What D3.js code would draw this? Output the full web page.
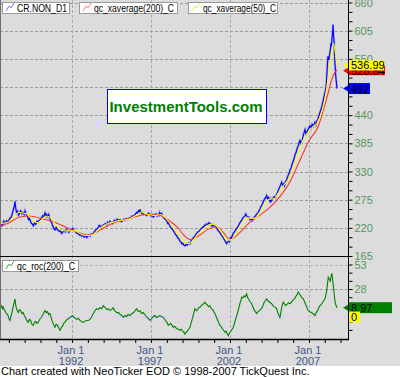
<!DOCTYPE html>
<html>
<head>
<meta charset="utf-8">
<title>CR.NON</title>
<style>
body { margin: 0; background: #fff; }
svg { display: block; font-family: "Liberation Sans", Arial, sans-serif; }
</style>
</head>
<body>
<svg width="400" height="377"></svg>
<script src="https://d3js.org/d3.v7.min.js"></script>
<script>
// CR.NON_D1 close, [decimal year, value]
var price = [
  [1987.44, 229], [1987.52, 224], [1987.6, 226], [1987.68, 233], [1987.75, 229], [1987.86, 234],
  [1987.95, 231], [1988.05, 238], [1988.15, 241], [1988.22, 248], [1988.28, 255], [1988.35, 263],
  [1988.39, 272], [1988.42, 262], [1988.45, 256], [1988.5, 249], [1988.56, 252], [1988.62, 245],
  [1988.7, 250], [1988.75, 253], [1988.83, 247], [1988.91, 250], [1988.97, 246], [1989.02, 253],
  [1989.08, 248], [1989.13, 244], [1989.2, 241], [1989.25, 236], [1989.32, 238], [1989.4, 230],
  [1989.47, 228], [1989.55, 224], [1989.62, 229], [1989.7, 227], [1989.78, 233], [1989.86, 231],
  [1989.93, 235], [1990.0, 236], [1990.08, 240], [1990.15, 244], [1990.22, 242], [1990.29, 249],
  [1990.35, 243], [1990.4, 246], [1990.47, 242], [1990.52, 246], [1990.6, 238], [1990.66, 233],
  [1990.72, 230], [1990.77, 224], [1990.82, 222], [1990.87, 217], [1990.92, 216], [1991.0, 221],
  [1991.05, 218], [1991.12, 215], [1991.2, 213], [1991.27, 215], [1991.34, 209], [1991.42, 212],
  [1991.5, 215], [1991.58, 212], [1991.66, 217], [1991.73, 214], [1991.8, 211], [1991.9, 215],
  [1991.98, 217], [1992.05, 219], [1992.12, 215], [1992.2, 213], [1992.28, 210], [1992.38, 209],
  [1992.45, 206], [1992.52, 208], [1992.6, 204], [1992.68, 205], [1992.76, 202], [1992.85, 205],
  [1992.93, 201], [1993.0, 204], [1993.08, 206], [1993.15, 204], [1993.22, 208], [1993.3, 207],
  [1993.38, 211], [1993.45, 214], [1993.52, 217], [1993.6, 218], [1993.67, 221], [1993.72, 225],
  [1993.77, 224], [1993.84, 220], [1993.9, 223], [1994.0, 226], [1994.1, 228], [1994.18, 226],
  [1994.25, 231], [1994.33, 229], [1994.4, 233], [1994.48, 230], [1994.55, 228], [1994.62, 232],
  [1994.7, 235], [1994.78, 233], [1994.85, 237], [1994.94, 234], [1995.03, 236], [1995.12, 232],
  [1995.2, 234], [1995.28, 237], [1995.35, 235], [1995.43, 238], [1995.5, 236], [1995.58, 238],
  [1995.67, 240], [1995.74, 239], [1995.8, 243], [1995.88, 242], [1995.95, 245], [1996.02, 247],
  [1996.09, 250], [1996.15, 248], [1996.2, 253], [1996.26, 251], [1996.3, 256], [1996.35, 250],
  [1996.4, 248], [1996.47, 250], [1996.55, 246], [1996.63, 247], [1996.72, 244], [1996.78, 247],
  [1996.85, 249], [1996.92, 246], [1997.0, 243], [1997.07, 245], [1997.14, 241], [1997.22, 244],
  [1997.3, 247], [1997.38, 243], [1997.45, 246], [1997.5, 244], [1997.55, 250], [1997.6, 246],
  [1997.67, 248], [1997.73, 243], [1997.8, 240], [1997.9, 237], [1997.99, 234], [1998.05, 229],
  [1998.1, 231], [1998.18, 224], [1998.25, 221], [1998.33, 218], [1998.41, 215], [1998.48, 211],
  [1998.55, 207], [1998.62, 205], [1998.7, 200], [1998.76, 199], [1998.83, 194], [1998.9, 192],
  [1998.95, 189], [1999.02, 190], [1999.08, 186], [1999.15, 185], [1999.22, 188], [1999.3, 186],
  [1999.38, 190], [1999.47, 189], [1999.53, 194], [1999.6, 197], [1999.68, 201], [1999.75, 202],
  [1999.82, 206], [1999.89, 209], [1999.96, 212], [2000.05, 213], [2000.12, 217], [2000.2, 219],
  [2000.26, 221], [2000.31, 220], [2000.38, 225], [2000.45, 224], [2000.52, 228], [2000.6, 226],
  [2000.67, 230], [2000.73, 228], [2000.8, 227], [2000.85, 224], [2000.93, 226], [2001.0, 223],
  [2001.08, 224], [2001.15, 220], [2001.22, 216], [2001.3, 213], [2001.38, 210], [2001.47, 205],
  [2001.53, 203], [2001.6, 199], [2001.66, 196], [2001.72, 193], [2001.79, 189], [2001.85, 192],
  [2001.9, 195], [2001.95, 193], [2002.0, 198], [2002.05, 201], [2002.1, 200], [2002.15, 205],
  [2002.2, 209], [2002.28, 212], [2002.35, 216], [2002.43, 219], [2002.52, 223], [2002.58, 227],
  [2002.65, 231], [2002.72, 234], [2002.8, 239], [2002.88, 241], [2002.95, 244], [2003.0, 247],
  [2003.05, 243], [2003.12, 240], [2003.2, 241], [2003.27, 236], [2003.35, 238], [2003.41, 234],
  [2003.47, 237], [2003.53, 241], [2003.6, 243], [2003.67, 246], [2003.75, 249], [2003.82, 252],
  [2003.9, 257], [2003.97, 262], [2004.05, 266], [2004.12, 272], [2004.2, 277], [2004.26, 279],
  [2004.32, 283], [2004.38, 276], [2004.45, 279], [2004.5, 273], [2004.55, 271], [2004.6, 276],
  [2004.64, 273], [2004.72, 278], [2004.8, 281], [2004.88, 278], [2004.95, 285], [2005.02, 290],
  [2005.1, 296], [2005.18, 302], [2005.27, 309], [2005.33, 303], [2005.4, 306], [2005.45, 302],
  [2005.5, 309], [2005.55, 312], [2005.59, 314], [2005.65, 320], [2005.7, 324], [2005.76, 328],
  [2005.8, 333], [2005.87, 337], [2005.95, 346], [2006.02, 351], [2006.11, 362], [2006.18, 367],
  [2006.25, 375], [2006.33, 381], [2006.43, 392], [2006.48, 384], [2006.55, 388], [2006.62, 398],
  [2006.68, 405], [2006.75, 412], [2006.82, 403], [2006.9, 409], [2006.97, 414], [2007.06, 419],
  [2007.12, 414], [2007.2, 422], [2007.28, 418], [2007.38, 426], [2007.44, 421], [2007.5, 429],
  [2007.57, 432], [2007.64, 440], [2007.7, 446], [2007.76, 451], [2007.82, 458], [2007.87, 465],
  [2007.92, 472], [2007.97, 478], [2008.01, 484], [2008.06, 492], [2008.1, 502], [2008.14, 524],
  [2008.17, 540], [2008.2, 555], [2008.26, 548], [2008.33, 563], [2008.37, 572], [2008.4, 581],
  [2008.43, 574], [2008.45, 588], [2008.49, 600], [2008.52, 617], [2008.55, 598], [2008.58, 586],
  [2008.61, 566], [2008.64, 543], [2008.67, 528], [2008.7, 514], [2008.74, 503], [2008.77, 492]
];

// qc_xaverage(50)_C
var ema50 = [
  [1987.44, 228], [1987.8, 230], [1988.1, 234], [1988.4, 245], [1988.6, 250], [1988.9, 249],
  [1989.2, 246], [1989.5, 236], [1989.8, 230], [1990.1, 236], [1990.4, 243], [1990.7, 238],
  [1991.0, 225], [1991.3, 216], [1991.6, 214], [1991.9, 214], [1992.2, 214], [1992.5, 209],
  [1992.8, 205], [1993.1, 205], [1993.4, 208], [1993.7, 217], [1994.0, 224], [1994.3, 229],
  [1994.6, 231], [1994.9, 234], [1995.2, 235], [1995.5, 236], [1995.8, 240], [1996.1, 245],
  [1996.4, 251], [1996.7, 247], [1997.0, 245], [1997.3, 244], [1997.6, 246], [1997.9, 240],
  [1998.2, 229], [1998.5, 216], [1998.8, 203], [1999.1, 192], [1999.4, 189], [1999.7, 197],
  [2000.0, 208], [2000.3, 218], [2000.6, 225], [2000.9, 227], [2001.2, 222], [2001.5, 210],
  [2001.8, 196], [2002.1, 197], [2002.4, 210], [2002.7, 226], [2003.0, 240], [2003.3, 239],
  [2003.6, 239], [2003.9, 250], [2004.2, 268], [2004.5, 276], [2004.8, 277], [2005.1, 290],
  [2005.4, 303], [2005.7, 315], [2006.0, 338], [2006.3, 366], [2006.6, 390], [2006.9, 405],
  [2007.2, 416], [2007.5, 424], [2007.8, 445], [2008.0, 470], [2008.2, 510], [2008.4, 555],
  [2008.55, 580], [2008.65, 565], [2008.77, 536.99]
];

// qc_xaverage(200)_C
var ema200 = [
  [1987.44, 222], [1988.0, 230], [1988.7, 241], [1989.3, 243], [1990.2, 237], [1990.8, 232],
  [1991.7, 220], [1992.4, 211], [1992.95, 206], [1993.4, 209], [1993.8, 216], [1994.6, 229],
  [1995.3, 236], [1995.9, 241], [1996.9, 247], [1997.5, 245], [1997.8, 241], [1998.2, 233],
  [1998.65, 222], [1999.1, 205], [1999.47, 197], [2000.1, 206], [2000.6, 217], [2001.17, 222],
  [2001.6, 210], [2002.0, 197], [2002.6, 210], [2003.26, 231], [2003.8, 243], [2004.34, 255],
  [2005.16, 281], [2005.8, 310], [2006.43, 352], [2007.0, 390], [2007.57, 417], [2008.14, 475],
  [2008.5, 515], [2008.77, 528.84]
];

// qc_roc(200)_C
var roc = [
  [1987.44, 6], [1987.5, 10], [1987.55, 11], [1987.6, 8], [1987.65, 9.5], [1987.7, 7],
  [1987.75, 6], [1987.8, 4], [1987.86, 3], [1987.95, 1], [1988.0, -2], [1988.07, -4],
  [1988.13, 0], [1988.2, 4], [1988.25, 8], [1988.3, 12], [1988.35, 15], [1988.39, 18],
  [1988.43, 12], [1988.47, 9], [1988.53, 6], [1988.6, 4], [1988.67, 7], [1988.75, 6],
  [1988.83, 3], [1988.91, 4], [1988.98, 1], [1989.05, -1], [1989.13, -4], [1989.23, -6],
  [1989.3, -3], [1989.38, -4], [1989.46, -8], [1989.55, -9], [1989.62, -6], [1989.7, -5],
  [1989.78, -7], [1989.86, -6], [1989.95, -3], [1990.05, -1], [1990.12, 1], [1990.2, 3],
  [1990.25, 5], [1990.29, 6], [1990.37, 4], [1990.45, 5], [1990.52, 2], [1990.6, 3],
  [1990.68, -1], [1990.75, -5], [1990.83, -8], [1990.92, -11], [1991.0, -8], [1991.08, -9],
  [1991.16, -12], [1991.24, -14], [1991.32, -11], [1991.4, -10], [1991.47, -7], [1991.55, -6],
  [1991.62, -4], [1991.7, -3], [1991.78, -2], [1991.87, -1], [1991.96, 0], [1992.05, 1],
  [1992.1, -1], [1992.15, -1], [1992.22, -2], [1992.29, -3], [1992.4, -2], [1992.5, -4],
  [1992.6, -5], [1992.71, -6], [1992.8, -5], [1992.9, -4], [1993.02, -4], [1993.14, -3],
  [1993.25, 0], [1993.35, 3], [1993.45, 6], [1993.56, 8], [1993.65, 7], [1993.75, 9],
  [1993.87, 8], [1993.98, 11], [1994.1, 9], [1994.2, 7], [1994.3, 8], [1994.4, 6],
  [1994.5, 7], [1994.6, 9], [1994.7, 6], [1994.83, 4], [1994.95, 4], [1995.05, 2],
  [1995.15, 1], [1995.24, -1], [1995.35, 1], [1995.45, 0], [1995.55, 2], [1995.67, 1],
  [1995.8, 3], [1995.9, 4], [1996.0, 6], [1996.09, 8], [1996.2, 5], [1996.3, 6],
  [1996.4, 3], [1996.51, 4], [1996.6, 2], [1996.7, 0], [1996.82, -2], [1996.93, -4],
  [1997.05, -2], [1997.15, 0], [1997.25, 1], [1997.36, -1], [1997.45, 0], [1997.55, 1],
  [1997.66, 0], [1997.78, -1], [1997.87, -3], [1997.95, -5], [1998.02, -6], [1998.09, -9],
  [1998.17, -8], [1998.25, -7], [1998.33, -9], [1998.41, -11], [1998.5, -10], [1998.6, -12],
  [1998.72, -13], [1998.83, -14], [1998.92, -13], [1999.0, -15], [1999.08, -16], [1999.15, -18],
  [1999.22, -16], [1999.3, -15], [1999.38, -13], [1999.47, -11], [1999.55, -6], [1999.62, -2],
  [1999.7, 3], [1999.78, 8], [1999.87, 6], [1999.95, 7], [2000.02, 9], [2000.1, 9.5],
  [2000.18, 11], [2000.25, 12], [2000.33, 13], [2000.41, 14.6], [2000.48, 13], [2000.55, 12],
  [2000.64, 10], [2000.73, 11], [2000.82, 8], [2000.9, 7], [2000.97, 5], [2001.05, 3],
  [2001.12, 0], [2001.2, -3], [2001.28, -6], [2001.36, -9], [2001.43, -10], [2001.5, -12],
  [2001.59, -14], [2001.68, -16], [2001.75, -15], [2001.8, -17], [2001.85, -18], [2001.89, -19.5],
  [2001.96, -17], [2002.05, -15], [2002.13, -13], [2002.21, -11], [2002.28, -7], [2002.35, -3],
  [2002.43, 1], [2002.52, 6], [2002.58, 10], [2002.64, 14], [2002.7, 17], [2002.74, 19.7],
  [2002.82, 19], [2002.9, 21], [2002.97, 20], [2003.05, 23], [2003.12, 19], [2003.2, 17],
  [2003.28, 15], [2003.37, 13], [2003.45, 10], [2003.52, 7], [2003.6, 5], [2003.69, 3],
  [2003.77, 5], [2003.85, 6], [2003.92, 7], [2004.0, 8], [2004.08, 11], [2004.15, 14],
  [2004.24, 16], [2004.32, 18], [2004.4, 16], [2004.48, 15], [2004.56, 14], [2004.64, 13],
  [2004.72, 11], [2004.8, 10], [2004.88, 9], [2004.95, 8], [2005.0, 5], [2005.05, 3],
  [2005.1, 1], [2005.16, -1], [2005.22, 4], [2005.27, 9], [2005.32, 12], [2005.37, 14.6],
  [2005.45, 13], [2005.52, 11], [2005.6, 12], [2005.7, 14], [2005.8, 13], [2005.9, 15],
  [2006.0, 17], [2006.08, 18], [2006.15, 20], [2006.24, 22], [2006.32, 25], [2006.4, 23],
  [2006.48, 21], [2006.56, 19], [2006.64, 18], [2006.72, 15], [2006.8, 12], [2006.88, 9],
  [2006.95, 6], [2007.05, 5], [2007.15, 4], [2007.25, 3], [2007.38, 1], [2007.46, 4],
  [2007.55, 6], [2007.62, 9], [2007.69, 11], [2007.77, 12], [2007.85, 14], [2007.93, 16],
  [2008.01, 18], [2008.07, 22], [2008.12, 26], [2008.17, 33], [2008.22, 40], [2008.28, 38],
  [2008.35, 36], [2008.4, 41], [2008.45, 44], [2008.5, 37], [2008.55, 30], [2008.6, 22],
  [2008.64, 16], [2008.7, 12], [2008.77, 8.97]
];

var priceTicks = [165, 220, 275, 330, 385, 440, 495, 550, 605, 660];
var priceLabels = [165, 220, 275, 330, 385, 440, 550, 605, 660];
var rocTicks = [28, 53];
var yearLabels = [1992, 1997, 2002, 2007];
var legendTop = ["CR.NON_D1", "qc_xaverage(200)_C", "qc_xaverage(50)_C"];
var legendBottom = ["qc_roc(200)_C"];

var svg = d3.select("svg");
var W = 400, H = 377;
var plotRight = 348, topBottom = 256, rocBottom = 339, footTop = 366;

var x = d3.scaleLinear().domain([1987.44, 2009.47]).range([0, plotRight]);
var y = d3.scaleLinear().domain([165, 660]).range([topBottom, 2.5]);
var yr = d3.scaleLinear().domain([0, 53]).range([316.5, 264.5]);

var labelColor = "#5a9462";
var gridColor = "#9a9a9a";

// background
svg.append("rect").attr("width", W).attr("height", footTop).attr("fill", "#dcdcdc");
svg.append("rect").attr("y", footTop).attr("width", W).attr("height", H - footTop).attr("fill", "#fff");

svg.append("clipPath").attr("id", "clipTop")
  .append("rect").attr("width", plotRight).attr("height", topBottom);
svg.append("clipPath").attr("id", "clipBot")
  .append("rect").attr("y", topBottom).attr("width", plotRight).attr("height", rocBottom - topBottom);

// grid
var grid = svg.append("g").attr("stroke", gridColor).attr("stroke-dasharray", "3,2");
grid.selectAll(".hg").data(priceTicks).enter().append("line")
  .attr("x1", 0).attr("x2", plotRight)
  .attr("y1", function(d) { return Math.round(y(d)) + 0.5; })
  .attr("y2", function(d) { return Math.round(y(d)) + 0.5; });
grid.selectAll(".vg").data(yearLabels).enter().append("line")
  .attr("y1", 0).attr("y2", rocBottom)
  .attr("x1", function(d) { return Math.round(x(d)) + 0.5; })
  .attr("x2", function(d) { return Math.round(x(d)) + 0.5; })
  .attr("stroke", "#aaa");
grid.selectAll(".rg").data(rocTicks).enter().append("line")
  .attr("x1", 0).attr("x2", plotRight)
  .attr("y1", function(d) { return Math.round(yr(d)) + 0.5; })
  .attr("y2", function(d) { return Math.round(yr(d)) + 0.5; })
  .attr("stroke", function(d) { return d == 53 ? "#b4b4b4" : gridColor; });

// zero line of roc
svg.append("line")
  .attr("x1", 0).attr("x2", plotRight)
  .attr("y1", Math.round(yr(0)) + 0.5).attr("y2", Math.round(yr(0)) + 0.5)
  .attr("stroke", "#f0f000").attr("stroke-dasharray", "2,1");

// series
var lineTop = d3.line()
  .x(function(d) { return x(d[0]); })
  .y(function(d) { return y(d[1]); });
var lineSmooth = d3.line()
  .curve(d3.curveMonotoneX)
  .x(function(d) { return x(d[0]); })
  .y(function(d) { return y(d[1]); });
var lineRoc = d3.line()
  .x(function(d) { return x(d[0]); })
  .y(function(d) { return yr(d[1]); });

var gTop = svg.append("g").attr("clip-path", "url(#clipTop)").attr("fill", "none");
gTop.append("path").datum(price).attr("d", lineTop)
  .attr("stroke", "#8080ff").attr("stroke-width", 2.2).attr("opacity", 0.55);
gTop.append("path").datum(price).attr("d", lineTop)
  .attr("stroke", "#0000ff").attr("stroke-width", 1.1);
gTop.append("path").datum(ema200).attr("d", lineSmooth)
  .attr("stroke", "#ff3030").attr("stroke-width", 1.1);
gTop.append("path").datum(ema50).attr("d", lineSmooth)
  .attr("stroke", "#ffff00").attr("stroke-width", 1.1);

var gBot = svg.append("g").attr("clip-path", "url(#clipBot)").attr("fill", "none");
gBot.append("path").datum(roc).attr("d", lineRoc)
  .attr("stroke", "#008000").attr("stroke-width", 1.1);

// frame
svg.append("line").attr("x1", 0.5).attr("x2", 0.5).attr("y1", 0).attr("y2", rocBottom)
  .attr("stroke", "#707070");
svg.append("line").attr("x1", 0).attr("x2", plotRight).attr("y1", topBottom + 0.5).attr("y2", topBottom + 0.5)
  .attr("stroke", "#000").attr("stroke-width", 1.2);
svg.append("line").attr("x1", 0).attr("x2", plotRight + 1).attr("y1", rocBottom + 0.5).attr("y2", rocBottom + 0.5)
  .attr("stroke", "#000").attr("stroke-width", 1.5);

// right axes
var minorTop = d3.range(165, 661, 55 / 3);
var axTop = svg.append("g").attr("transform", "translate(" + (plotRight + 0.5) + ",0)");
axTop.call(d3.axisRight(y).tickValues(minorTop).tickSize(4).tickFormat(""));
axTop.selectAll("path.domain").attr("d", "M0,0V" + topBottom);
var labTop = svg.append("g").attr("transform", "translate(" + (plotRight + 0.5) + ",0)");
labTop.call(d3.axisRight(y).tickValues(priceLabels).tickSize(0).tickPadding(6));
labTop.select(".domain").remove();
labTop.selectAll("text").attr("fill", labelColor).style("font-size", "11px")
  .style("font-family", "'Liberation Sans', Arial, sans-serif");

var minorBot = d3.range(53, -24, -25 / 3);
var axBot = svg.append("g").attr("transform", "translate(" + (plotRight + 0.5) + ",0)");
axBot.call(d3.axisRight(yr).tickValues(minorBot.filter(function(v) { return yr(v) < rocBottom - 2; }))
  .tickSize(4).tickFormat(""));
axBot.selectAll("path.domain").attr("d", "M0," + topBottom + "V" + (rocBottom + 1));
var labBot = svg.append("g").attr("transform", "translate(" + (plotRight + 0.5) + ",0)");
labBot.call(d3.axisRight(yr).tickValues(rocTicks).tickSize(0).tickPadding(6));
labBot.select(".domain").remove();
labBot.selectAll("text").attr("fill", labelColor).style("font-size", "11px")
  .style("font-family", "'Liberation Sans', Arial, sans-serif");

// bottom time axis
var axX = svg.append("g").attr("transform", "translate(0," + (rocBottom + 1) + ")");
axX.call(d3.axisBottom(x).tickValues(d3.range(1988, 2010)).tickSize(3).tickFormat(""));
axX.select(".domain").remove();
var xl = svg.append("g").attr("fill", "#45578a").attr("font-size", "11px").attr("text-anchor", "middle");
xl.selectAll(".m").data(yearLabels).enter().append("text")
  .attr("x", function(d) { return x(d) - 1; }).attr("y", 354).text("Jan 1");
xl.selectAll(".yy").data(yearLabels).enter().append("text")
  .attr("x", function(d) { return x(d) - 1; }).attr("y", 365).text(function(d) { return d; });

// last value markers
function marker(yy, fill, txt, w, h) {
  svg.append("path")
    .attr("d", "M" + (plotRight - 5) + "," + yy + "L" + plotRight + "," + (yy - 3) + "L" + plotRight + "," + (yy + 3) + "Z")
    .attr("fill", fill);
  svg.append("rect").attr("x", plotRight + 1).attr("y", yy - h / 2).attr("width", w).attr("height", h)
    .attr("fill", fill);
  svg.append("text").attr("x", plotRight + 3).attr("y", yy + 4).attr("font-size", "11px")
    .attr("fill", "#000").text(txt);
}
var lastP = price[price.length - 1][1];
var last50 = ema50[ema50.length - 1][1];
var last200 = ema200[ema200.length - 1][1];
var lastR = roc[roc.length - 1][1];
marker(y(last200) + 1, "#ff0000", last200.toFixed(2), 36, 9);
marker(y(last50), "#ffff00", last50.toFixed(2), 35, 10);
marker(y(lastP), "#0000ff", String(lastP), 21, 11);
marker(yr(lastR), "#008000", lastR.toFixed(2), 43, 11);
svg.append("rect").attr("x", plotRight + 1).attr("y", yr(0) - 5).attr("width", 11).attr("height", 11).attr("fill", "#ffff00");
svg.append("text").attr("x", plotRight + 3).attr("y", yr(0) + 4).attr("font-size", "11px").text("0");

// legends
function legend(x0, y0, w, h, txt, col, tw) {
  svg.append("rect").attr("x", x0 + 0.5).attr("y", y0 + 0.5).attr("width", w).attr("height", h)
    .attr("fill", "#fff").attr("stroke", "#9a9a9a");
  svg.append("path")
    .attr("d", "M" + (x0 + 4) + "," + (y0 + h - 2) + "l3,-5l2,2l3,-5")
    .attr("fill", "none").attr("stroke", col).attr("stroke-width", 1).attr("opacity", 0.7);
  svg.append("text").attr("x", x0 + 15).attr("y", y0 + h - 1.5).attr("font-size", "11px")
    .attr("textLength", tw).attr("lengthAdjust", "spacingAndGlyphs")
    .attr("fill", "#000").text(txt);
}
legend(2, 2, 67, 11, legendTop[0], "#4040ff", 50);
legend(79, 2, 98, 11, legendTop[1], "#ff4040", 80);
legend(188, 2, 89, 11, legendTop[2], "#e0e000", 73);
legend(2, 260, 76, 11, legendBottom[0], "#008000", 58);

// watermark
svg.append("rect").attr("x", 107.5).attr("y", 89.5).attr("width", 159).attr("height", 34)
  .attr("fill", "#fff").attr("stroke", "#0000ff").attr("stroke-width", 1);
svg.append("text").attr("x", 186).attr("y", 112).attr("text-anchor", "middle")
  .attr("font-size", "15px").attr("font-weight", "bold").attr("fill", "#008000")
  .text("InvestmentTools.com");

// footer
svg.append("text").attr("x", 1).attr("y", 375).attr("font-size", "11px").attr("fill", "#000")
  .text("Chart created with NeoTicker EOD \u00a9 1998-2007 TickQuest Inc.");
</script>
</body>
</html>
